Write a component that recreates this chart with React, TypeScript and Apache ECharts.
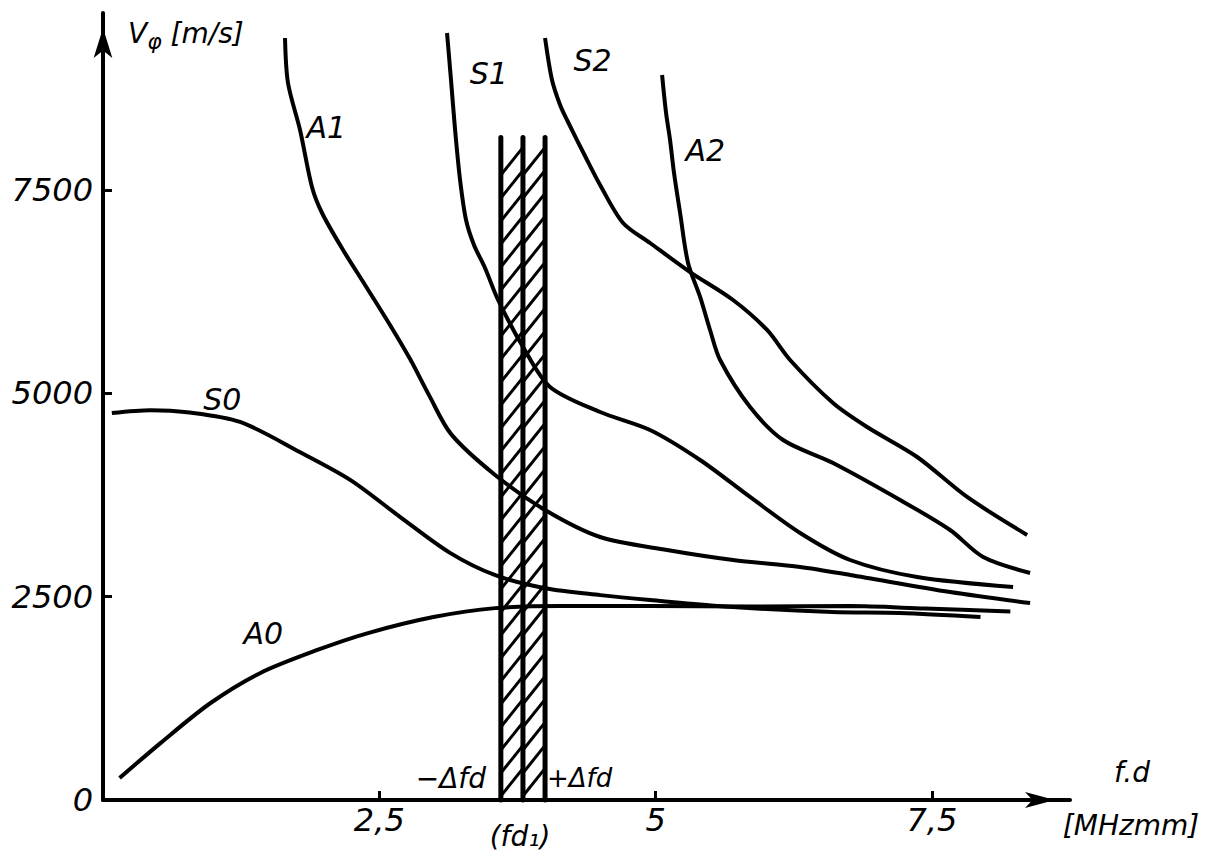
import React, { useEffect, useRef } from 'react';
import * as echarts from 'echarts';

// f.d [MHz·mm] , Vφ [m/s]
const A0 = [[0.15, 270], [0.52, 700], [0.97, 1190], [1.42, 1560], [1.94, 1845], [2.39, 2050], [2.99, 2250], [3.55, 2360], [4.14, 2385], [4.95, 2385], [5.86, 2380], [6.76, 2385], [7.44, 2355], [8.21, 2320]];
const S0 = [[0.08, 4760], [0.43, 4795], [0.76, 4770], [1.24, 4650], [1.78, 4280], [2.24, 3935], [2.69, 3480], [3.14, 3040], [3.55, 2765], [4.0, 2605], [4.5, 2520], [4.95, 2460], [5.7, 2373], [6.6, 2312], [7.21, 2300], [7.94, 2250]];
const A1 = [[1.647, 9373], [1.674, 8819], [1.783, 8241], [1.891, 7540], [1.982, 7220], [2.172, 6765], [2.371, 6335], [2.597, 5843], [2.78, 5420], [2.95, 4980], [3.15, 4500], [3.548, 3998], [4.0, 3567], [4.498, 3235], [5.104, 3075], [5.701, 2952], [6.308, 2866], [6.76, 2768], [7.665, 2558], [8.389, 2423]];
const S1 = [[3.113, 9434], [3.149, 8856], [3.186, 8241], [3.231, 7626], [3.285, 7134], [3.357, 6827], [3.457, 6544], [3.575, 6150], [3.801, 5572], [4.045, 5080], [4.498, 4772], [4.95, 4551], [5.403, 4182], [5.855, 3727], [6.308, 3284], [6.76, 2952], [7.367, 2743], [8.235, 2620]];
const S2 = [[4.0, 9373], [4.063, 8856], [4.136, 8549], [4.199, 8364], [4.38, 7872], [4.498, 7565], [4.706, 7097], [4.95, 6851], [5.312, 6494], [5.701, 6150], [6.009, 5781], [6.217, 5412], [6.606, 4883], [6.914, 4588], [7.367, 4219], [7.819, 3727], [8.362, 3260]];
const A2 = [[5.059, 8918], [5.095, 8450], [5.131, 8118], [5.167, 7712], [5.222, 7220], [5.294, 6605], [5.403, 6187], [5.493, 5781], [5.584, 5412], [5.855, 4834], [6.154, 4428], [6.606, 4145], [7.213, 3690], [7.665, 3321], [7.964, 2989], [8.389, 2792]];

const curveNames = ['A0', 'S0', 'A1', 'S1', 'S2', 'A2'];
const curveLabelCoords = [[1.45, 2050], [1.08, 4930], [2.02, 8275], [3.49, 8930], [4.43, 9100], [5.45, 7990]];

const xTickValues = [2.5, 5, 7.5];
const yTickValues = [2500, 5000, 7500];
const yLabelValues = [0, 2500, 5000, 7500];

const bandEdges = [3.6, 3.8, 4.0];
const bandTop = 8150;

const FONT = '"DejaVu Sans", "Liberation Sans", sans-serif';

export default function App() {
  const ref = useRef<HTMLDivElement>(null);
  useEffect(() => {
    const chart = echarts.init(ref.current!, null, { renderer: 'svg' });
    const curves = [A0, S0, A1, S1, S2, A2];
    const lineSeries = curves.map((data, i) => ({
      type: 'line',
      name: curveNames[i],
      data,
      smooth: 0.3,
      symbol: 'none',
      lineStyle: { color: '#000', width: 4 },
      z: 3,
      silent: true,
      markPoint: {
        symbol: 'circle',
        symbolSize: 1,
        itemStyle: { color: 'rgba(0,0,0,0)' },
        silent: true,
        label: {
          show: true,
          position: 'inside',
          formatter: '{b}',
          color: '#000',
          fontSize: 30,
          fontStyle: 'italic',
          fontFamily: FONT,
        },
        data: [{ name: curveNames[i], coord: curveLabelCoords[i] }],
      },
    }));

    const hatch = {
      type: 'custom',
      silent: true,
      z: 2,
      data: [[bandEdges[0], bandEdges[1], bandEdges[2], bandTop]],
      renderItem: (params: any, api: any) => {
        const xs = [api.value(0), api.value(1), api.value(2)];
        const top = api.value(3);
        const pts = xs.map((x: number) => api.coord([x, 0]));
        const topY = api.coord([xs[0], top])[1];
        const bottomY = pts[0][1];
        const children: any[] = [];
        for (let i = 0; i < 2; i++) {
          const xl = pts[i][0];
          const xr = pts[i + 1][0];
          const rise = (xr - xl) * 1.25;
          for (let y = bottomY - 4; y - rise >= topY + 4; y -= 23) {
            children.push({
              type: 'line',
              shape: { x1: xl, y1: y, x2: xr, y2: y - rise },
              style: { stroke: '#000', lineWidth: 3 },
            });
          }
        }
        pts.forEach((p: number[]) => {
          children.push({
            type: 'line',
            shape: { x1: p[0], y1: bottomY, x2: p[0], y2: topY },
            style: { stroke: '#000', lineWidth: 5, lineCap: 'round' },
          });
        });
        return { type: 'group', children };
      },
    };

    const tfont = (size: number) => `italic ${size}px ${FONT}`;

    chart.setOption({
      animation: false,
      backgroundColor: '#fff',
      grid: { left: 103, right: 139, top: 13, bottom: 59 },
      xAxis: {
        type: 'value',
        min: 0,
        max: 8.75,
        splitLine: { show: false },
        axisLine: {
          show: true,
          lineStyle: { color: '#000', width: 4 },
          symbol: ['none', 'arrow'],
          symbolSize: [12, 30],
          symbolOffset: [0, -15],
        },
        axisTick: { show: true, inside: true, length: 9, lineStyle: { color: '#000', width: 3 }, customValues: xTickValues },
        axisLabel: {
          customValues: xTickValues,
          formatter: (v: number) => String(v).replace('.', ','),
          color: '#000',
          fontSize: 32,
          fontStyle: 'italic',
          fontFamily: FONT,
          margin: 4,
        },
      },
      yAxis: {
        type: 'value',
        min: 0,
        max: 9680,
        splitLine: { show: false },
        axisLine: {
          show: true,
          lineStyle: { color: '#000', width: 4 },
          symbol: ['none', 'arrow'],
          symbolSize: [14, 30],
          symbolOffset: [0, -15],
        },
        axisTick: { show: true, inside: true, length: 9, lineStyle: { color: '#000', width: 3 }, customValues: yTickValues },
        axisLabel: {
          customValues: yLabelValues,
          formatter: (v: number) => String(v),
          color: '#000',
          fontSize: 32,
          fontStyle: 'italic',
          fontFamily: FONT,
          margin: 10,
        },
      },
      graphic: [
        {
          type: 'text',
          x: 128,
          y: 33,
          style: {
            text: '{v|V}{s|φ}{u| [m/s]}',
            textVerticalAlign: 'middle',
            fill: '#000',
            rich: {
              v: { font: tfont(28), fill: '#000' },
              s: { font: tfont(22), fill: '#000', padding: [16, 0, 0, 0] },
              u: { font: tfont(28), fill: '#000' },
            },
          },
        },
        { type: 'text', x: 1132, y: 772, style: { text: 'f.d', font: tfont(28), fill: '#000', textAlign: 'center', textVerticalAlign: 'middle' } },
        { type: 'text', x: 1131, y: 825, style: { text: '[MHzmm]', font: tfont(28), fill: '#000', textAlign: 'center', textVerticalAlign: 'middle' } },
        { type: 'text', x: 486, y: 778, style: { text: '−Δfd', font: tfont(28), fill: '#000', textAlign: 'right', textVerticalAlign: 'middle' } },
        { type: 'text', x: 547, y: 778, style: { text: '+Δfd', font: tfont(26), fill: '#000', textAlign: 'left', textVerticalAlign: 'middle' } },
        { type: 'text', x: 520, y: 836, style: { text: '(fd₁)', font: tfont(28), fill: '#000', textAlign: 'center', textVerticalAlign: 'middle' } },
      ],
      series: [hatch, ...lineSeries],
    });
    return () => chart.dispose();
  }, []);
  return <div ref={ref} style={{ position: 'absolute', left: 0, top: 0, width: 1209, height: 859, background: '#fff' }} />;
}
